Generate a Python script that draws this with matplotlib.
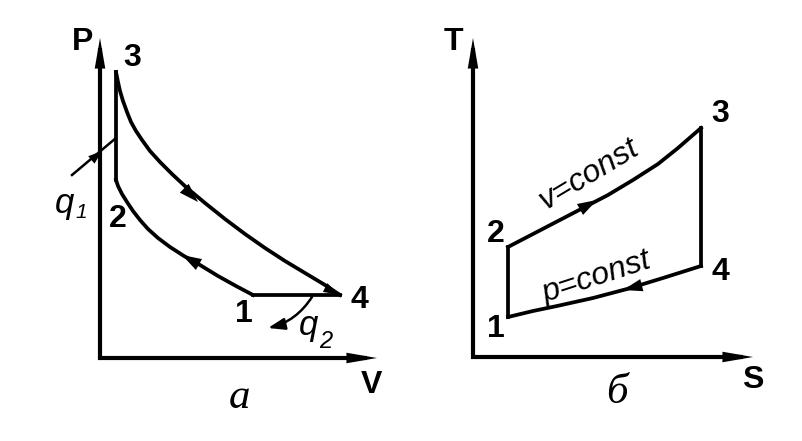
import numpy as np
import matplotlib
matplotlib.use("Agg")
import matplotlib.pyplot as plt
from matplotlib.patches import FancyArrowPatch
from matplotlib import font_manager

# ---------------- data (schematic units) ----------------
# P-V diagram (a)
pv_axis_P_top = 320
pv_axis_V_right = 277
pv_3to4_V = [16, 18, 20, 23, 27, 31, 36, 42, 50, 60, 72, 87, 105, 125, 145, 165, 185, 205, 225, 240]
pv_3to4_P = [286, 276, 267, 257, 246, 236, 227, 218, 207, 196, 184, 170, 155, 139, 124, 110, 97, 85, 73, 63]
pv_2to1_V = [16, 18, 22, 27, 33, 40, 48, 58, 70, 84, 100, 118, 136, 153]
pv_2to1_P = [178, 172, 164, 156, 147, 138, 129, 120, 111, 102, 93, 82, 72, 63]
pv_points = {"1": (153, 63), "2": (16, 178), "3": (16, 286), "4": (240, 63)}
pv_labels = {"3": (32, 300), "2": (18, 139), "1": (144, 44), "4": (259, 58)}

# T-S diagram (б)
ts_axis_T_top = 319
ts_axis_S_right = 280
ts_2to3_S = [35, 60, 85, 110, 135, 160, 185, 205, 228]
ts_2to3_T = [110, 123, 136, 149, 162, 177, 193, 209, 229]
ts_1to4_S = [35, 60, 84, 120, 154, 190, 228]
ts_1to4_T = [40, 46, 51, 59, 68, 79, 91]
ts_points = {"1": (35, 40), "2": (35, 110), "3": (228, 229), "4": (228, 91)}
ts_labels = {"3": (247, 243), "2": (23, 123), "4": (247, 85), "1": (23, 28)}

LW = 2.7
AXLW = 3.0
C = "black"


def have(fam):
    try:
        font_manager.findfont(font_manager.FontProperties(family=fam),
                              fallback_to_default=False)
        return True
    except Exception:
        return False


NARROW = "Liberation Sans Narrow" if have("Liberation Sans Narrow") else "Liberation Sans"

fig = plt.figure(figsize=(8.02, 4.41), dpi=100)
fig.patch.set_facecolor("white")
ax1 = fig.add_axes([0, 0, 1, 1])
ax2 = fig.add_axes([0, 0, 1, 1])
ax1.set_xlim(-100, 702); ax1.set_ylim(-83, 358)
ax2.set_xlim(-473, 329); ax2.set_ylim(-84, 357)
for a in (ax1, ax2):
    a.axis("off")
    a.patch.set_alpha(0)

bold = dict(family="Liberation Sans", fontweight="bold", fontsize=23,
            ha="center", va="center", color=C)
ital = dict(family=NARROW, style="italic", color=C,
            ha="center", va="center")
cyr = dict(family="Liberation Serif", style="italic", color=C,
           ha="center", va="center", fontsize=31)


def head(ax, x, y, dx, dy, hl=14, hw=4.5):
    n = np.hypot(dx, dy)
    dx, dy = dx / n, dy / n
    p = FancyArrowPatch((x - dx * 2, y - dy * 2), (x, y),
                        arrowstyle=f"-|>,head_length={hl/10},head_width={hw/10}",
                        mutation_scale=10, color=C, lw=0, shrinkA=0, shrinkB=0)
    ax.add_patch(p)


def axes_frame(ax, top, right):
    ax.plot([0, 0, right - 10], [top - 10, 0, 0], color=C, lw=AXLW,
            solid_joinstyle="miter", solid_capstyle="butt")
    head(ax, 0, top, 0, 1, hl=22, hw=3.8)
    head(ax, right, 0, 1, 0, hl=22, hw=3.8)


# ---------- left: P-V ----------
axes_frame(ax1, pv_axis_P_top, pv_axis_V_right)
ax1.plot(pv_3to4_V, pv_3to4_P, color=C, lw=LW, solid_joinstyle="round")
ax1.plot(pv_2to1_V, pv_2to1_P, color=C, lw=LW, solid_joinstyle="round")
p2, p3, p1, p4 = pv_points["2"], pv_points["3"], pv_points["1"], pv_points["4"]
ax1.plot([p2[0], p3[0]], [p2[1], p3[1]], color=C, lw=LW)
ax1.plot([p1[0], p4[0]], [p1[1], p4[1]], color=C, lw=LW)
# direction arrows
head(ax1, 98, 156, 15, -15)
head(ax1, 82, 103, -16, 9)
head(ax1, 240, 63, 1, -0.5, hl=12, hw=3.5)
for k, (x, y) in pv_labels.items():
    ax1.text(x, y, k, **bold)
ax1.text(-17, 316, "P", **bold)
ax1.text(271, -27, "V", **bold)
ax1.text(139, -40, "а", **cyr)
# q1
ax1.plot([-28, 16], [183, 220], color=C, lw=1.8)
head(ax1, 2, 207, 44, 37, hl=10, hw=3.5)
ax1.text(-35, 155, "q", fontsize=25, **ital)
ax1.text(-19, 146, "1", fontsize=15, **ital)
# q2
q2 = FancyArrowPatch((212, 61), (168, 30), connectionstyle="arc3,rad=-0.2",
                     arrowstyle="-|>,head_length=1.0,head_width=0.35",
                     mutation_scale=10, color=C, lw=1.8, shrinkA=0, shrinkB=0)
ax1.add_patch(q2)
ax1.text(209, 33, "q", fontsize=25, **ital)
ax1.text(226, 17, "2", fontsize=17, **ital)

# ---------- right: T-S ----------
axes_frame(ax2, ts_axis_T_top, ts_axis_S_right)
ax2.plot(ts_2to3_S, ts_2to3_T, color=C, lw=LW, solid_joinstyle="round")
ax2.plot(ts_1to4_S, ts_1to4_T, color=C, lw=LW, solid_joinstyle="round")
t1, t2, t3, t4 = ts_points["1"], ts_points["2"], ts_points["3"], ts_points["4"]
ax2.plot([t1[0], t2[0]], [t1[1], t2[1]], color=C, lw=LW)
ax2.plot([t3[0], t4[0]], [t3[1], t4[1]], color=C, lw=LW)
head(ax2, 124, 157, 45, 25)
head(ax2, 150, 67, -70, -18)
for k, (x, y) in ts_labels.items():
    ax2.text(x, y, k, **bold)
ax2.text(-20, 315, "T", **bold)
ax2.text(280, -23, "S", **bold)
ax2.text(144, -36, "б", **cyr)
ax2.text(116, 182, "v=const", fontsize=23, rotation=31,
         rotation_mode="anchor", **ital)
ax2.text(124, 80, "p=const", fontsize=23, rotation=18,
         rotation_mode="anchor", **ital)

fig.savefig("out.png", dpi=100, facecolor="white")
